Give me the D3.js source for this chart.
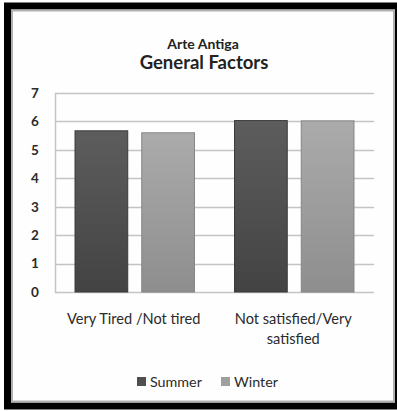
<!DOCTYPE html>
<html>
<head>
<meta charset="utf-8">
<script src="https://cdn.jsdelivr.net/npm/d3@7"></script>
<style>
  html, body { margin: 0; padding: 0; background: #ffffff; }
  svg { display: block; }
  text { font-family: Lato, "Open Sans", sans-serif; fill: #222; }
</style>
</head>
<body>
<svg id="chart" width="397" height="411"></svg>
<script>
// Chart data
const categories = ["Very Tired /Not tired", "Not satisfied/Very satisfied"];
const seriesNames = ["Summer", "Winter"];
const summerValues = [5.67, 6.03];
const winterValues = [5.6, 6.02];
const yTicks = [0, 1, 2, 3, 4, 5, 6, 7];
const titleLines = ["Arte Antiga", "General Factors"];
const categoryLines = [["Very Tired /Not tired"], ["Not satisfied/Very", "satisfied"]];

const seriesValues = [summerValues, winterValues];
const rows = categories.map((c, i) => ({
  category: c,
  values: seriesNames.map((s, j) => ({ series: s, value: seriesValues[j][i] }))
}));

const svg = d3.select("#chart");
const W = 397, H = 411;

// Frame: thick black border with a thin grey inner rule
svg.append("rect").attr("x", 0).attr("y", 0).attr("width", W).attr("height", H).attr("fill", "#ffffff");
svg.append("rect").attr("x", 7.5).attr("y", 6).attr("width", 391).attr("height", 400)
  .attr("fill", "none").attr("stroke", "#000").attr("stroke-width", 7);
svg.append("rect").attr("x", 12).attr("y", 10.5).attr("width", 382).attr("height", 391)
  .attr("fill", "#fefefe").attr("stroke", "#b0b0b0").attr("stroke-width", 2);

// Gradients for the bar fills
const defs = svg.append("defs");
const gradSpecs = [
  { id: "g-summer", top: "#5d5d5d", bottom: "#434343" },
  { id: "g-winter", top: "#ababab", bottom: "#8e8e8e" }
];
gradSpecs.forEach(g => {
  const lg = defs.append("linearGradient").attr("id", g.id)
    .attr("x1", 0).attr("y1", 0).attr("x2", 0).attr("y2", 1);
  lg.append("stop").attr("offset", "0%").attr("stop-color", g.top);
  lg.append("stop").attr("offset", "100%").attr("stop-color", g.bottom);
});
const fillOf = d3.scaleOrdinal().domain(seriesNames).range(["url(#g-summer)", "url(#g-winter)"]);
const strokeOf = d3.scaleOrdinal().domain(seriesNames).range(["#3a3a3a", "#858585"]);
const swatchOf = d3.scaleOrdinal().domain(seriesNames).range(["#4f4f4f", "#9f9f9f"]);

// Plot area
const plot = { left: 55, right: 374, top: 93, bottom: 292 };

const y = d3.scaleLinear().domain([0, 7]).range([plot.bottom, plot.top]);
const x0 = d3.scaleBand().domain(categories).range([plot.left, plot.right]).paddingInner(0).paddingOuter(0);
const x1 = d3.scaleBand().domain(seriesNames).range([0, x0.bandwidth()])
  .paddingInner(0.21).paddingOuter(0.3);

// Horizontal gridlines
svg.append("g").selectAll("line").data(yTicks).join("line")
  .attr("x1", plot.left).attr("x2", plot.right)
  .attr("y1", d => Math.round(y(d)) + 0.5).attr("y2", d => Math.round(y(d)) + 0.5)
  .attr("stroke", "#c4c4c4").attr("stroke-width", 1.5);

// Y axis
const yAxis = svg.append("g").attr("transform", `translate(${plot.left},0)`)
  .call(d3.axisLeft(y).tickValues(yTicks).tickSize(0).tickPadding(14).tickFormat(d3.format("d")));
yAxis.select(".domain").attr("stroke", "#c4c4c4").attr("stroke-width", 1.5);
yAxis.selectAll("text").style("font-size", "13.5px").style("font-weight", "bold")
  .style("fill", "#2a2a2a").attr("text-anchor", "middle").attr("x", -20);

// Bars
const groups = svg.append("g").selectAll("g").data(rows).join("g")
  .attr("transform", d => `translate(${x0(d.category)},0)`);
groups.selectAll("rect").data(d => d.values).join("rect")
  .attr("x", d => x1(d.series))
  .attr("width", x1.bandwidth())
  .attr("y", d => y(d.value))
  .attr("height", d => y(0) - y(d.value))
  .attr("fill", d => fillOf(d.series))
  .attr("stroke", d => strokeOf(d.series))
  .attr("stroke-width", 1);

// Category labels
const catG = svg.append("g");
categories.forEach((c, i) => {
  const cx = x0(c) + x0.bandwidth() / 2 - 1;
  const t = catG.append("text")
    .attr("x", cx)
    .attr("y", 324)
    .attr("text-anchor", "middle")
    .style("font-size", "14.6px")
    .style("fill", "#2a2a2a");
  categoryLines[i].forEach((line, k) => {
    t.append("tspan").attr("x", cx).attr("dy", k === 0 ? 0 : 20).text(line);
  });
});

// Titles
svg.append("text").attr("x", 203).attr("y", 49).attr("text-anchor", "middle")
  .style("font-size", "14px").style("font-weight", "bold").style("fill", "#222").text(titleLines[0]);
svg.append("text").attr("x", 204).attr("y", 69).attr("text-anchor", "middle")
  .style("font-size", "18.5px").style("font-weight", "bold").style("fill", "#222").text(titleLines[1]);

// Legend
const legendPos = [137, 221];
const leg = svg.append("g");
seriesNames.forEach((s, i) => {
  leg.append("rect").attr("x", legendPos[i]).attr("y", 377).attr("width", 9).attr("height", 9)
    .attr("fill", swatchOf(s));
  leg.append("text").attr("x", legendPos[i] + 13).attr("y", 386.5)
    .style("font-size", "14.3px").style("fill", "#2a2a2a").text(s);
});
</script>
</body>
</html>
